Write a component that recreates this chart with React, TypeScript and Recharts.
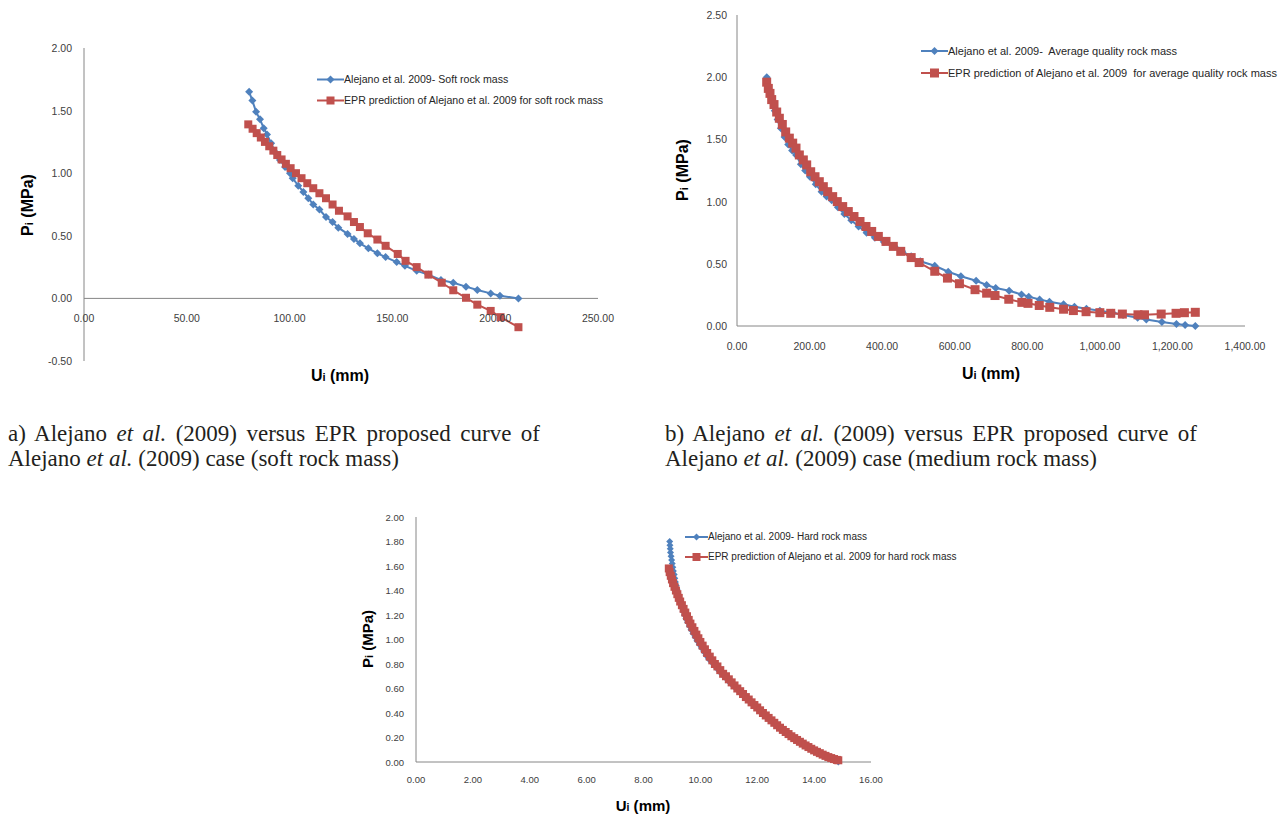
import React from 'react'
import { Legend, ReferenceLine, Scatter, ScatterChart, XAxis, YAxis } from 'recharts'

const BLUE = '#4F81BD'
const RED = '#C0504D'
const AXIS = '#868686'
const TICK = '#404040'
const SANS = '"Liberation Sans", Arial, sans-serif'
const SERIF = '"Liberation Serif", "Times New Roman", serif'
const X_AXIS_H = 30
const Y_AXIS_W = 40

// a) soft rock mass
const softTicksU = [0, 50, 100, 150, 200, 250]
const softTicksP = [-0.5, 0, 0.5, 1, 1.5, 2]
const softAlejanoU = [80.3, 81.9, 83.7, 85.6, 87.4, 89.0, 91.0, 92.9, 95.3, 97.8, 100.2, 101.5, 104.2, 106.7, 109.1, 111.5, 114.5, 117.7, 120.9, 123.7, 128.2, 131.3, 134.2, 138.3, 142.7, 146.7, 152.1, 156.1, 161.8, 167.5, 173.6, 179.6, 185.8, 191.3, 197.8, 202.3, 211.3]
const softAlejanoP = [1.65, 1.58, 1.49, 1.43, 1.36, 1.31, 1.24, 1.17, 1.105, 1.05, 1.0, 0.96, 0.9, 0.85, 0.8, 0.75, 0.71, 0.65, 0.61, 0.565, 0.515, 0.475, 0.44, 0.4, 0.36, 0.33, 0.29, 0.26, 0.22, 0.19, 0.147, 0.125, 0.094, 0.067, 0.04, 0.022, 0.0]
const softEprU = [79.9, 82.0, 84.0, 86.0, 88.0, 90.1, 92.1, 94.0, 96.1, 98.2, 100.5, 103.1, 105.8, 108.6, 111.5, 114.5, 117.7, 120.9, 124.0, 128.2, 131.3, 134.2, 138.0, 142.7, 146.7, 152.6, 156.4, 161.8, 167.5, 174.0, 179.6, 185.8, 191.3, 197.8, 202.6, 211.3]
const softEprP = [1.39, 1.355, 1.32, 1.285, 1.25, 1.215, 1.18, 1.145, 1.11, 1.075, 1.04, 1.0, 0.96, 0.92, 0.88, 0.84, 0.8, 0.75, 0.7, 0.655, 0.61, 0.57, 0.52, 0.47, 0.42, 0.355, 0.3, 0.25, 0.19, 0.125, 0.065, 0.005, -0.05, -0.1, -0.15, -0.23]

// b) medium (average quality) rock mass
const mediumTicksU = [0, 200, 400, 600, 800, 1000, 1200, 1400]
const mediumTicksP = [0, 0.5, 1, 1.5, 2, 2.5]
const mediumAlejanoU = [82, 86, 91, 97, 104, 112, 121, 131, 141, 152, 163, 176, 188, 201, 217, 233, 247, 261, 278, 296, 315, 335, 357, 380, 405, 434, 455, 480, 505, 545, 582, 617, 659, 688, 713, 750, 784, 804, 834, 861, 900, 930, 963, 1000, 1035, 1064, 1104, 1128, 1171, 1211, 1235, 1263]
const mediumAlejanoP = [2.0, 1.93, 1.87, 1.8, 1.73, 1.66, 1.59, 1.52, 1.46, 1.41, 1.375, 1.3, 1.25, 1.2, 1.14, 1.08, 1.04, 1.01, 0.955, 0.9, 0.85, 0.8, 0.75, 0.71, 0.675, 0.64, 0.6, 0.56, 0.52, 0.484, 0.436, 0.4, 0.364, 0.33, 0.305, 0.283, 0.254, 0.235, 0.214, 0.195, 0.174, 0.155, 0.139, 0.123, 0.107, 0.088, 0.067, 0.053, 0.032, 0.016, 0.008, 0]
const mediumEprU = [81.8, 86.3, 90.9, 95.6, 102, 109.4, 116.7, 124.9, 134.2, 144.2, 153.5, 162.6, 171.8, 182.8, 192.1, 203.1, 215, 226.8, 237.9, 250, 263.7, 276.4, 291.3, 306.7, 322.4, 339, 355.5, 371.2, 389.5, 410.6, 430.8, 451.2, 480, 502, 545, 580, 613, 656, 688, 711, 749, 785, 802, 833, 862, 900, 927, 962, 1000, 1030, 1062, 1105, 1123, 1169, 1210, 1233, 1263]
const mediumEprP = [1.96, 1.91, 1.87, 1.82, 1.78, 1.72, 1.67, 1.62, 1.56, 1.51, 1.47, 1.43, 1.375, 1.335, 1.295, 1.24, 1.2, 1.16, 1.12, 1.08, 1.04, 1.0, 0.96, 0.92, 0.88, 0.84, 0.8, 0.76, 0.72, 0.68, 0.64, 0.6, 0.55, 0.51, 0.44, 0.385, 0.34, 0.292, 0.264, 0.245, 0.215, 0.19, 0.182, 0.165, 0.15, 0.135, 0.124, 0.115, 0.107, 0.102, 0.096, 0.09, 0.09, 0.096, 0.102, 0.107, 0.11]

// c) hard rock mass
const hardTicksU = [0, 2, 4, 6, 8, 10, 12, 14, 16]
const hardTicksP = [0, 0.2, 0.4, 0.6, 0.8, 1, 1.2, 1.4, 1.6, 1.8, 2]
const hardAlejanoU = [8.92, 8.93, 8.94, 8.95, 8.97, 8.99, 9.01, 9.03, 9.05, 9.08, 9.1, 9.12, 9.15, 9.18, 9.21, 9.24, 9.27, 9.31, 9.35, 9.39, 9.44, 9.49, 9.55, 9.61, 9.67, 9.74, 9.81, 9.88, 9.96, 10.04, 10.12, 10.2, 10.29, 10.38, 10.47, 10.56, 10.65, 10.74, 10.83, 10.93, 11.03, 11.14, 11.25, 11.36, 11.47, 11.58, 11.7, 11.82, 11.94, 12.06, 12.18, 12.3, 12.42, 12.54, 12.66, 12.78, 12.9, 13.02, 13.14, 13.26, 13.38, 13.5, 13.62, 13.74, 13.86, 13.98, 14.1, 14.22, 14.34, 14.46, 14.58, 14.7, 14.85]
const hardAlejanoP = [1.8, 1.77, 1.74, 1.71, 1.68, 1.65, 1.62, 1.59, 1.56, 1.53, 1.5, 1.47, 1.44, 1.41, 1.38, 1.35, 1.32, 1.29, 1.26, 1.23, 1.2, 1.17, 1.14, 1.11, 1.08, 1.05, 1.02, 0.99, 0.96, 0.93, 0.9, 0.87, 0.84, 0.82, 0.795, 0.77, 0.745, 0.72, 0.7, 0.675, 0.65, 0.625, 0.6, 0.575, 0.55, 0.525, 0.5, 0.475, 0.45, 0.425, 0.4, 0.378, 0.355, 0.333, 0.31, 0.29, 0.27, 0.25, 0.23, 0.21, 0.19, 0.172, 0.155, 0.138, 0.12, 0.103, 0.087, 0.072, 0.058, 0.044, 0.03, 0.017, 0.0]
const hardEprU = [8.89, 8.92, 8.96, 9.0, 9.04, 9.09, 9.14, 9.19, 9.24, 9.29, 9.35, 9.41, 9.47, 9.53, 9.59, 9.65, 9.72, 9.79, 9.86, 9.93, 10.0, 10.08, 10.16, 10.24, 10.33, 10.42, 10.51, 10.6, 10.7, 10.8, 10.9, 11.0, 11.1, 11.2, 11.3, 11.4, 11.5, 11.6, 11.7, 11.8, 11.9, 12.0, 12.1, 12.2, 12.3, 12.4, 12.5, 12.6, 12.7, 12.8, 12.9, 13.0, 13.1, 13.2, 13.3, 13.4, 13.5, 13.6, 13.7, 13.8, 13.9, 14.0, 14.1, 14.2, 14.3, 14.4, 14.5, 14.6, 14.7, 14.8, 14.85]
const hardEprP = [1.58, 1.55, 1.52, 1.49, 1.46, 1.43, 1.4, 1.37, 1.34, 1.31, 1.28, 1.25, 1.22, 1.19, 1.16, 1.13, 1.1, 1.07, 1.04, 1.01, 0.98, 0.95, 0.92, 0.89, 0.86, 0.83, 0.8, 0.78, 0.75, 0.72, 0.7, 0.675, 0.65, 0.625, 0.6, 0.578, 0.555, 0.53, 0.51, 0.487, 0.465, 0.445, 0.422, 0.4, 0.38, 0.36, 0.34, 0.32, 0.3, 0.28, 0.262, 0.245, 0.228, 0.21, 0.195, 0.18, 0.165, 0.15, 0.135, 0.122, 0.108, 0.095, 0.083, 0.072, 0.06, 0.05, 0.04, 0.032, 0.024, 0.017, 0.014]

const zip = (us: number[], ps: number[]) => us.map((u, i) => ({ u, p: ps[i] }))
const fixed2 = (v: number) => v.toFixed(2)
const money2 = (v: number) => v.toLocaleString('en-US', { minimumFractionDigits: 2, maximumFractionDigits: 2 })

const diamondPath = (cx: number, cy: number, r: number) =>
    `M${cx},${cy - r}L${cx + r},${cy}L${cx},${cy + r}L${cx - r},${cy}Z`

type LegendItem = { label: string; color: string; marker: 'diamond' | 'square' }

const LegendRows = ({ items, fontSize, rowH, iconW, dR, sR }: any) => (
    <div style={{ fontFamily: SANS, fontSize, color: '#262626' }}>
        {items.map((it: LegendItem) => (
            <div key={it.label} style={{ display: 'flex', alignItems: 'center', height: rowH, whiteSpace: 'pre' }}>
                <svg width={iconW} height={rowH} style={{ display: 'block' }}>
                    <line x1={0} x2={iconW} y1={rowH / 2} y2={rowH / 2} stroke={it.color} strokeWidth={2} />
                    {it.marker === 'diamond' ? (
                        <path d={diamondPath(iconW / 2, rowH / 2, dR)} fill={it.color} />
                    ) : (
                        <rect x={iconW / 2 - sR} y={rowH / 2 - sR} width={sR * 2} height={sR * 2} fill={it.color} />
                    )}
                </svg>
                <span>{it.label}</span>
            </div>
        ))}
    </div>
)

const CurvePanel = (props: any) => {
    const { w, h, m, xDomain, xTicks, xFmt, yDomain, yTicks, fs, xGap, yGap, alejano, epr, dR, sR, lw, legend } = props
    const plotH = h - m.top - m.bottom - X_AXIS_H
    // distance from the bottom of the plot up to the P = 0 line, where the U axis sits
    const lift = (plotH * (0 - yDomain[0])) / (yDomain[1] - yDomain[0])

    const xTick = ({ x, y, payload }: any) => (
        <text x={x} y={y - lift + xGap} textAnchor="middle" dominantBaseline="central" fontSize={fs} fontFamily={SANS} fill={TICK}>
            {xFmt(payload.value)}
        </text>
    )
    const yTick = ({ x, y, payload }: any) => (
        <text x={x} y={y} textAnchor="end" dominantBaseline="central" fontSize={fs} fontFamily={SANS} fill={TICK}>
            {fixed2(payload.value)}
        </text>
    )

    return (
        <ScatterChart width={w} height={h} margin={m}>
            <XAxis
                type="number"
                dataKey="u"
                domain={xDomain}
                ticks={xTicks}
                interval={0}
                height={X_AXIS_H}
                axisLine={lift === 0 ? { stroke: AXIS } : false}
                tickLine={false}
                tickSize={0}
                tickMargin={0}
                tick={xTick}
            />
            <YAxis
                type="number"
                dataKey="p"
                domain={yDomain}
                ticks={yTicks}
                interval={0}
                width={Y_AXIS_W}
                axisLine={{ stroke: AXIS }}
                tickLine={false}
                tickSize={0}
                tickMargin={yGap}
                tick={yTick}
            />
            {lift > 0 && <ReferenceLine y={0} stroke={AXIS} />}
            <Scatter
                name={legend.items[0].label}
                data={alejano}
                fill={BLUE}
                line={{ stroke: BLUE, strokeWidth: lw }}
                shape={(pp: any) => <path d={diamondPath(pp.cx, pp.cy, dR)} fill={BLUE} />}
                isAnimationActive={false}
            />
            <Scatter
                name={legend.items[1].label}
                data={epr}
                fill={RED}
                line={{ stroke: RED, strokeWidth: lw }}
                shape={(pp: any) => <rect x={pp.cx - sR} y={pp.cy - sR} width={sR * 2} height={sR * 2} fill={RED} />}
                isAnimationActive={false}
            />
            <Legend
                layout="vertical"
                align="center"
                verticalAlign="middle"
                wrapperStyle={{ left: legend.left, top: legend.top, width: 'auto', height: 'auto' }}
                content={() => (
                    <LegendRows items={legend.items} fontSize={legend.fontSize} rowH={legend.rowH} iconW={legend.iconW} dR={dR} sR={sR} />
                )}
            />
        </ScatterChart>
    )
}

const AxisTitle = ({ letter, unit, x, y, size, vertical }: any) => (
    <div
        style={{
            position: 'absolute',
            left: x,
            top: y,
            transform: `translate(-50%, -50%)${vertical ? ' rotate(-90deg)' : ''}`,
            fontFamily: SANS,
            fontWeight: 'bold',
            fontSize: size,
            whiteSpace: 'nowrap',
            color: '#000',
        }}
    >
        {letter}
        <span style={{ fontSize: '0.7em' }}>i</span> ({unit})
    </div>
)

// first caption line is justified to the column width, second line is natural
const Caption = ({ x, y, tag, kind }: any) => (
    <div style={{ position: 'absolute', left: x, top: y, width: 532, fontFamily: SERIF, fontSize: 23, lineHeight: '25px', color: '#231f20' }}>
        <div style={{ textAlign: 'justify', textAlignLast: 'justify' }}>
            {tag}) Alejano <i>et al.</i> (2009) versus EPR proposed curve of
        </div>
        <div style={{ whiteSpace: 'nowrap' }}>
            Alejano <i>et al.</i> (2009) case ({kind} rock mass)
        </div>
    </div>
)

export default function App() {
    return (
        <div style={{ position: 'absolute', left: 0, top: 0, width: 1284, height: 816, background: '#fff', overflow: 'hidden' }}>
            <div style={{ position: 'absolute', left: 0, top: 0 }}>
                <CurvePanel
                    w={640}
                    h={400}
                    m={{ top: 48, right: 42, bottom: 9, left: 44 }}
                    xDomain={[0, 250]}
                    xTicks={softTicksU}
                    xFmt={fixed2}
                    yDomain={[-0.5, 2]}
                    yTicks={softTicksP}
                    fs={10.5}
                    xGap={20}
                    yGap={12}
                    alejano={zip(softAlejanoU, softAlejanoP)}
                    epr={zip(softEprU, softEprP)}
                    dR={4}
                    sR={4}
                    lw={2}
                    legend={{
                        left: 317,
                        top: 68.5,
                        fontSize: 10.6,
                        rowH: 21,
                        iconW: 27,
                        items: [
                            { label: 'Alejano et al. 2009- Soft rock mass', color: BLUE, marker: 'diamond' },
                            { label: 'EPR prediction of Alejano et al. 2009 for soft rock mass', color: RED, marker: 'square' },
                        ],
                    }}
                />
            </div>
            <div style={{ position: 'absolute', left: 640, top: 0 }}>
                <CurvePanel
                    w={644}
                    h={400}
                    m={{ top: 15, right: 39, bottom: 44, left: 57 }}
                    xDomain={[0, 1400]}
                    xTicks={mediumTicksU}
                    xFmt={money2}
                    yDomain={[0, 2.5]}
                    yTicks={mediumTicksP}
                    fs={10.5}
                    xGap={20}
                    yGap={10}
                    alejano={zip(mediumAlejanoU, mediumAlejanoP)}
                    epr={zip(mediumEprU, mediumEprP)}
                    dR={4}
                    sR={4.5}
                    lw={2}
                    legend={{
                        left: 281,
                        top: 40,
                        fontSize: 11,
                        rowH: 22,
                        iconW: 27,
                        items: [
                            { label: 'Alejano et al. 2009-  Average quality rock mass', color: BLUE, marker: 'diamond' },
                            { label: 'EPR prediction of Alejano et al. 2009  for average quality rock mass', color: RED, marker: 'square' },
                        ],
                    }}
                />
            </div>
            <div style={{ position: 'absolute', left: 330, top: 500 }}>
                <CurvePanel
                    w={640}
                    h={316}
                    m={{ top: 17, right: 99, bottom: 24, left: 46 }}
                    xDomain={[0, 16]}
                    xTicks={hardTicksU}
                    xFmt={fixed2}
                    yDomain={[0, 2]}
                    yTicks={hardTicksP}
                    fs={9.5}
                    xGap={17}
                    yGap={12}
                    alejano={zip(hardAlejanoU, hardAlejanoP)}
                    epr={zip(hardEprU, hardEprP)}
                    dR={3.5}
                    sR={4}
                    lw={2.5}
                    legend={{
                        left: 355,
                        top: 26.7,
                        fontSize: 10,
                        rowH: 20,
                        iconW: 23,
                        items: [
                            { label: 'Alejano et al. 2009- Hard rock mass', color: BLUE, marker: 'diamond' },
                            { label: 'EPR prediction of Alejano et al. 2009 for hard rock mass', color: RED, marker: 'square' },
                        ],
                    }}
                />
            </div>

            <AxisTitle letter="P" unit="MPa" x={28} y={205} size={16} vertical />
            <AxisTitle letter="U" unit="mm" x={340} y={376} size={16} />
            <AxisTitle letter="P" unit="MPa" x={683} y={170} size={16} vertical />
            <AxisTitle letter="U" unit="mm" x={991} y={374} size={16} />
            <AxisTitle letter="P" unit="MPa" x={367} y={639} size={15} vertical />
            <AxisTitle letter="U" unit="mm" x={643} y={805} size={15} />

            <Caption x={8} y={421} tag="a" kind="soft" />
            <Caption x={665} y={421} tag="b" kind="medium" />
        </div>
    )
}
